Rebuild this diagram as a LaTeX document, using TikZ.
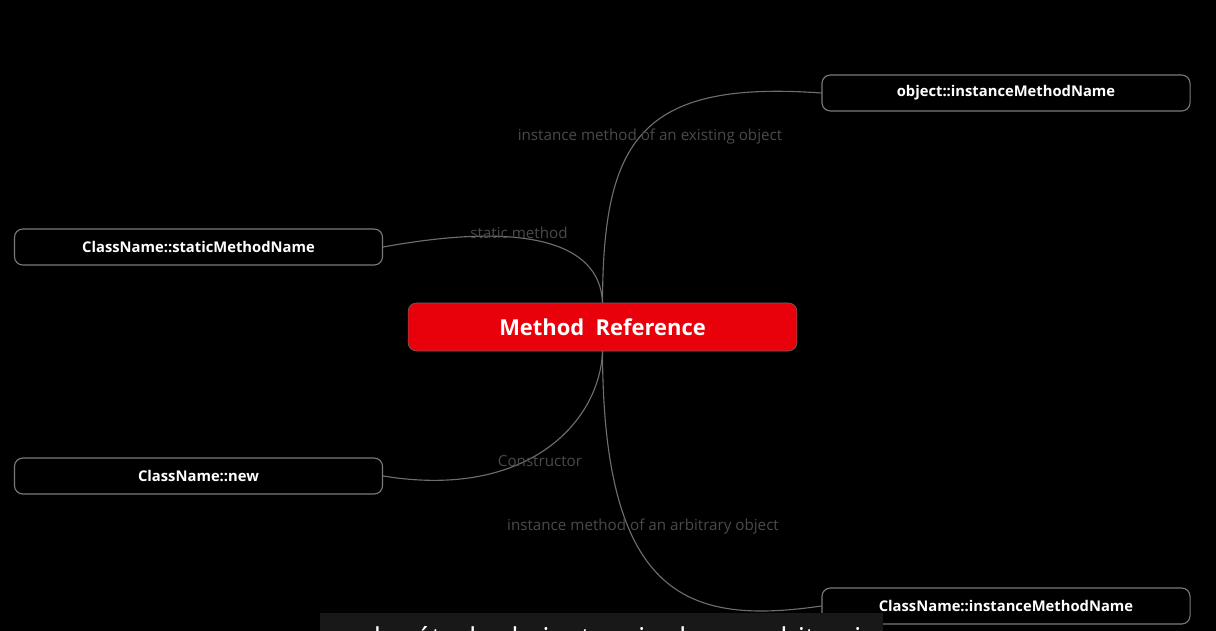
\documentclass[tikz,border=0pt]{standalone}
\usepackage{fontspec}
\setmainfont{Open Sans}
\usepackage{tikz}
\usetikzlibrary{positioning}
\definecolor{rootred}{HTML}{E8000B}
\definecolor{edgegray}{HTML}{6E6E6E}
\definecolor{boxgray}{HTML}{7A7A7A}
\definecolor{labelgray}{HTML}{4A4A4A}
\definecolor{subbar}{HTML}{181818}

\begin{document}
\begin{tikzpicture}[
    x=0.025cm, y=-0.025cm,
    root/.style={rectangle, rounded corners=6pt, draw=black!60, fill=rootred,
                 minimum width=9.72cm, minimum height=1.2cm, text=white,
                 font=\fontsize{15.6}{18}\selectfont\bfseries},
    leaf/.style={rectangle, rounded corners=6pt, draw=boxgray, fill=black, line width=0.8pt,
                 minimum width=9.2cm, minimum height=0.9cm, text=white,
                 font=\fontsize{10.5}{12}\selectfont\bfseries},
    branch/.style={draw=edgegray, line width=0.8pt},
    tag/.style={text=labelgray, font=\fontsize{10.8}{12}\selectfont},
]

% background and frame
\fill[black] (0,0) rectangle (1216,631);
\useasboundingbox (0,0) rectangle (1216,631);

% nodes
\node[root] (ref) at (602.5,327) {Method\ \ Reference};
\node[leaf] (existing) at (1006,93) {object::instanceMethodName};
\node[leaf] (static) at (198.5,247) {ClassName::staticMethodName};
\node[leaf] (ctor) at (198.5,476) {ClassName::new};
\node[leaf] (arbitrary) at (1006,606) {ClassName::instanceMethodName};

% branches
\draw[branch] (ref.north) .. controls (603,140) and (640,80) .. (existing.west);
\draw[branch] (ref.north) .. controls (600,240) and (520,222) .. (static.east);
\draw[branch] (ref.south) .. controls (600,420) and (530,500) .. (ctor.east);
\draw[branch] (ref.south) .. controls (603,600) and (690,625) .. (arbitrary.west);

% branch labels
\node[tag] (lexisting) at (650,137) {instance method of an existing object};
\node[tag] (lstatic) at (519,233) {static method};
\node[tag] (lctor) at (540,461) {Constructor};
\node[tag] (larbitrary) at (643,527) {instance method of an arbitrary object};

% subtitle strip at the bottom edge
\fill[subbar] (320,613) rectangle (883,631);
\begin{scope}
  \clip (320,613) rectangle (883,631);
  \node[anchor=base west, text=white!80, font=\fontsize{20.4}{24}\selectfont] (subtitle) at (328,648)
    {o el método de instancia de un arbitrario};
\end{scope}

\end{tikzpicture}
\end{document}
